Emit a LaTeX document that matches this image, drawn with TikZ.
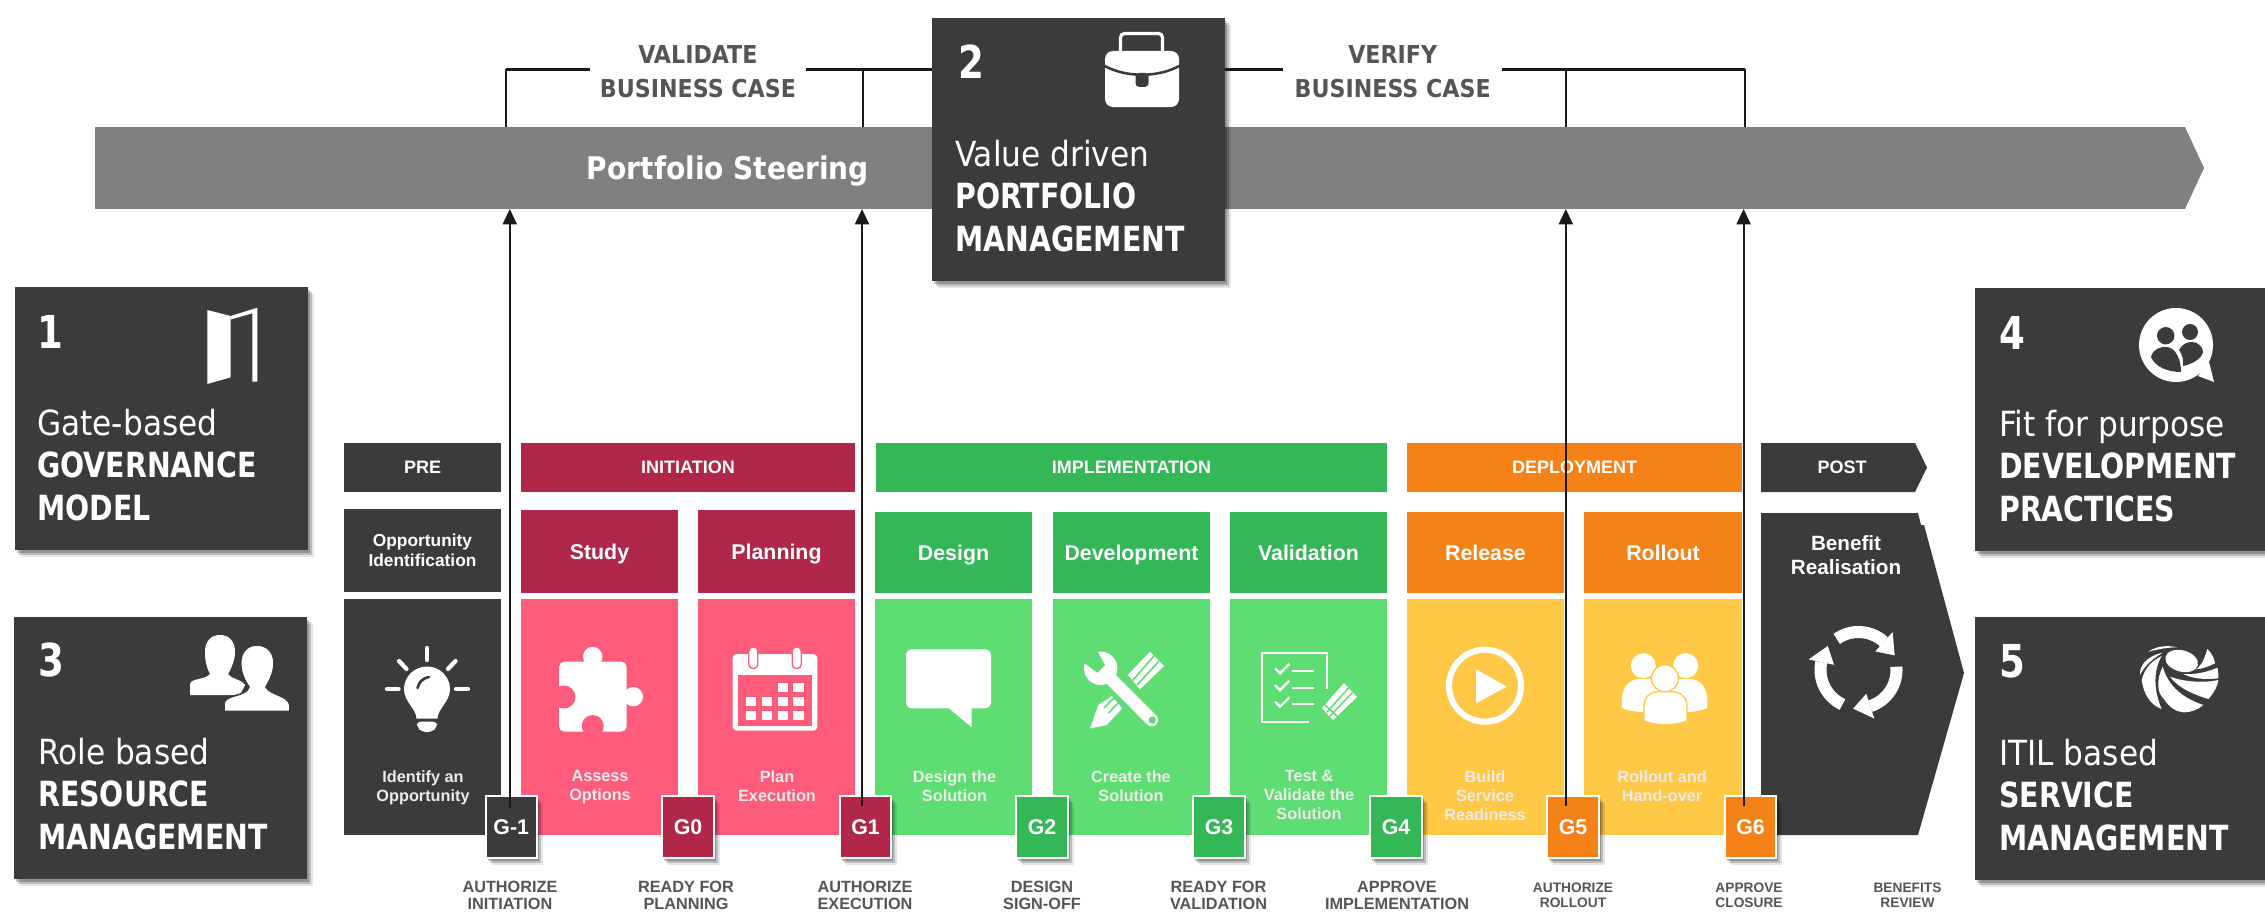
\documentclass[tikz,border=0pt]{standalone}
\usepackage{fontspec}
\setmainfont{DejaVu Sans Condensed}
\newfontfamily\arialf{Liberation Sans}
\newfontfamily\bigbold[FakeStretch=0.91]{DejaVu Sans Condensed Bold}
\usetikzlibrary{shadows,arrows.meta}
\definecolor{dk}{HTML}{3B3B3B}
\definecolor{barc}{HTML}{808080}
\definecolor{crim}{HTML}{B1274A}
\definecolor{pnk}{HTML}{FF5C7C}
\definecolor{dgrn}{HTML}{34B757}
\definecolor{lgrn}{HTML}{5EDD72}
\definecolor{orng}{HTML}{F58216}
\definecolor{yell}{HTML}{FFC845}
\definecolor{lbl}{HTML}{555555}
\definecolor{lin}{HTML}{1A1A1A}
\newcommand\bb[1]{{\bigbold\fontsize{26}{31.7}\selectfont #1}}
\tikzset{
  softshadow/.style={
    general shadow={fill=black,opacity=.10,shadow xshift=4.5pt,shadow yshift=-5pt},
    general shadow={fill=black,opacity=.18,shadow xshift=3pt,shadow yshift=-3.5pt},
    general shadow={fill=black,opacity=.22,shadow xshift=1.5pt,shadow yshift=-2pt}},
  box/.style={inner sep=0pt,outer sep=0pt,text=white,align=center,font=\arialf\bfseries},
  bigbox/.style={box,fill=dk,softshadow},
  phase/.style={box,font=\arialf\bfseries\fontsize{13.5}{16}\selectfont},
  head/.style={box,text height=13.5pt,text depth=1.7pt,font=\arialf\bfseries\fontsize{16}{19}\selectfont},
  low/.style={box,font=\arialf\bfseries\fontsize{12.2}{14}\selectfont},
  gate/.style={box,draw=white,line width=1.5pt,softshadow,font=\arialf\bfseries\fontsize{16}{19}\selectfont},
  over/.style={inner sep=0pt,outer sep=0pt,text=white!92!black,align=center,font=\arialf\bfseries\fontsize{12.2}{14.2}\selectfont},
  gl/.style={inner sep=0pt,align=center,text=lbl,font=\arialf\bfseries\fontsize{12.2}{13.3}\selectfont},
  gs/.style={inner sep=0pt,align=center,text=lbl,font=\arialf\bfseries\fontsize{10.3}{11.5}\selectfont},
  numb/.style={inner sep=0pt,text=white,font=\bigbold\fontsize{34}{36}\selectfont},
  bt/.style={inner sep=0pt,anchor=west,align=left,text=white,font=\fontsize{26}{31.7}\selectfont},
  toplab/.style={inner sep=0pt,outer sep=0pt,align=center,text=lbl,font=\bfseries\fontsize{18.5}{25.5}\selectfont},
  arr/.style={draw=lin,line width=1.5pt,-{Triangle[length=11.5pt,width=10.5pt]}},
  vline/.style={draw=lin,line width=1.1pt},
  hline/.style={draw=lin,line width=1.8pt},
  ic/.style={fill=white,draw=none}
}
\newcommand\rb[7]{%
  \pgfmathsetmacro\rw{(#5-#3)*0.75}\pgfmathsetmacro\rh{(#6-#4)*0.75}%
  \node[#1,anchor=north west,minimum width=\rw pt,minimum height=\rh pt] (#2) at (#3,#4) {#7};}
\begin{document}
\begin{tikzpicture}[x=0.75pt,y=-0.75pt]
\useasboundingbox (0,0) rectangle (2265,917);
% portfolio bar
\rb{box,fill=barc}{bar}{95}{127}{2185}{209}{}
\fill[barc] (bar.north east) -- (2204,168) -- (bar.south east) -- cycle;
\node[inner sep=0pt,text=white,font=\bfseries\fontsize{23.4}{26}\selectfont] (steer) at (728,171) {Portfolio Steering};
% big boxes
\rb{bigbox}{b2}{932}{18}{1225}{281}{}
\rb{bigbox}{b1}{15}{287}{308}{550}{}
\rb{bigbox}{b3}{14}{617}{307}{879}{}
\rb{bigbox}{b4}{1975}{288}{2266}{551}{}
\rb{bigbox}{b5}{1975}{617}{2266}{880}{}
\node[numb] (n1) at (50,332) {1};
\node[numb] (n2) at (971,62) {2};
\node[numb] (n3) at (51,660) {3};
\node[numb] (n4) at (2012,333) {4};
\node[numb] (n5) at (2012,661) {5};
\node[bt] (t1) at (37,465) {Gate-based\\\bb{GOVERNANCE}\\\bb{MODEL}};
\node[bt] (t2) at (955,196) {Value driven\\\bb{PORTFOLIO}\\\bb{MANAGEMENT}};
\node[bt] (t3) at (38,794) {Role based\\\bb{RESOURCE}\\\bb{MANAGEMENT}};
\node[bt] (t4) at (1999,466) {Fit for purpose\\\bb{DEVELOPMENT}\\\bb{PRACTICES}};
\node[bt] (t5) at (1999,795) {ITIL based\\\bb{SERVICE}\\\bb{MANAGEMENT}};
% top labels and brackets
\node[toplab,minimum width=162pt] (val) at (698,72) {VALIDATE\\BUSINESS CASE};
\node[toplab,minimum width=164pt] (ver) at (1392.7,72) {VERIFY\\BUSINESS CASE};
\coordinate (hy) at (0,69.5);
\coordinate (c1) at (506,69.5);
\coordinate (c2) at (863,69.5);
\coordinate (c3) at (1566,69.5);
\coordinate (c4) at (1745,69.5);
\draw[hline] (b2.west |- hy) -- (val.east |- hy);
\draw[hline] (val.west |- hy) -- (c1);
\draw[hline] (b2.east |- hy) -- (ver.west |- hy);
\draw[hline] (ver.east |- hy) -- (c4);
\draw[vline] (c1) -- (c1 |- bar.north);
\draw[vline] (c2) -- (c2 |- bar.north);
\draw[vline] (c3) -- (c3 |- bar.north);
\draw[vline] (c4) -- (c4 |- bar.north);
% phases
\rb{phase,fill=dk}{pre}{344}{443}{501}{492}{PRE}
\rb{phase,fill=crim}{ini}{521}{443}{855}{492}{INITIATION}
\rb{phase,fill=dgrn}{imp}{876}{443}{1387}{492}{IMPLEMENTATION}
\rb{phase,fill=orng}{dep}{1407}{443}{1742}{492}{DEPLOYMENT}
\fill[dk] (1761,443) -- (1915,443) -- (1927,467.5) -- (1915,492) -- (1761,492) -- cycle;
\node[inner sep=0pt,text=white,font=\arialf\bfseries\fontsize{13.5}{16}\selectfont] (post) at (1842,467.5) {POST};
% sub heads
\rb{box,fill=dk,font=\arialf\bfseries\fontsize{13}{15}\selectfont}{h0}{344}{509}{501}{592}{Opportunity\\Identification}
\rb{head,fill=crim}{h1}{521}{510}{678}{593}{Study}
\rb{head,fill=crim}{h2}{698}{510}{855}{593}{Planning}
\rb{head,fill=dgrn}{h3}{875}{512}{1032}{593}{Design}
\rb{head,fill=dgrn}{h4}{1053}{512}{1210}{593}{Development}
\rb{head,fill=dgrn}{h5}{1230}{512}{1387}{593}{Validation}
\rb{head,fill=orng}{h6}{1407}{512}{1564}{593}{Release}
\rb{head,fill=orng}{h7}{1584}{512}{1742}{593}{Rollout}
% lower panels
\rb{box,fill=dk}{p0}{344}{599}{501}{835}{}
\rb{box,fill=pnk}{p1}{521}{599}{678}{835}{}
\rb{box,fill=pnk}{p2}{698}{599}{855}{835}{}
\rb{box,fill=lgrn}{p3}{875}{599}{1032}{835}{}
\rb{box,fill=lgrn}{p4}{1053}{599}{1210}{835}{}
\rb{box,fill=lgrn}{p5}{1230}{599}{1387}{835}{}
\rb{box,fill=yell}{p6}{1407}{599}{1564}{835}{}
\rb{box,fill=yell}{p7}{1584}{599}{1742}{835}{}
\fill[dk] (1761,513) -- (1918,513) -- (1921,525) -- (1924,525) -- (1964,673) -- (1918,835) -- (1761,835) -- cycle;
\node[inner sep=0pt,align=center,text=white,font=\arialf\bfseries\fontsize{15.5}{17.5}\selectfont] (h8) at (1846,555) {Benefit\\Realisation};
% panel captions
\node[over,anchor=north] (o0) at (423,770.5) {Identify an\\Opportunity};
\node[over,anchor=north] (o1) at (600,770.5) {Assess\\Options};
\node[over,anchor=north] (o2) at (777,770.5) {Plan\\Execution};
\node[over,anchor=north] (o3) at (954.5,770.5) {Design the\\Solution};
\node[over,anchor=north] (o4) at (1131,770.5) {Create the\\Solution};
\node[over,anchor=north] (o5) at (1309,770.5) {Test \&\\Validate the\\Solution};
\node[over,anchor=north] (o6) at (1485,770.5) {Build\\Service\\Readiness};
\node[over,anchor=north] (o7) at (1662,770.5) {Rollout and\\Hand-over};
% ICONS
% door
\fill[ic] (207.3,310) -- (230.7,316) -- (230.7,377.3) -- (207.3,384) -- cycle;
\fill[ic] (230.7,316) -- (257.3,307.7) -- (257.3,381.7) -- (252.3,381.7) -- (252.3,313.3) -- (230.7,319.5) -- cycle;
% briefcase
\draw[white,line width=2.4pt,rounded corners=3pt] (1120.5,53) -- (1120.5,33.5) -- (1162.5,33.5) -- (1162.5,53);
\fill[ic,rounded corners=6pt] (1105,51) rectangle (1179,107);
\draw[dk,line width=1.9pt] (1103,65) .. controls (1125,78) and (1159,78) .. (1181,65);
\fill[dk,rounded corners=2.8pt] (1135.5,73) rectangle (1148.5,87);
% bubble
\fill[ic] (2176,345) circle[radius=37];
\fill[ic] (2198,376) -- (2214,382) -- (2209,362) -- cycle;
\fill[dk] (2165.7,335.7) circle[radius=8.7];
\fill[dk] (2190,332) circle[radius=8];
\fill[dk] (2151,357) .. controls (2153,349) and (2160,346.5) .. (2167,347) .. controls (2176,348) and (2181,360) .. (2181,372) .. controls (2168,372) and (2155,367) .. (2151,357) -- cycle;
\fill[dk] (2179,350) .. controls (2182,344) and (2187,342) .. (2192,342) .. controls (2198,342) and (2203,347) .. (2203,352) .. controls (2202,358) and (2193,364) .. (2183,366) .. controls (2184,360) and (2182,354) .. (2179,350) -- cycle;
% two heads
\fill[ic] (190,695) -- (190,684) .. controls (191,678) and (205,680) .. (210,674) .. controls (205,665) and (205,655) .. (205,652) .. controls (205,640) and (212,635) .. (220,635) .. controls (228,635) and (235,640) .. (235,652) .. controls (235,660) and (232,667) .. (228,674) .. controls (232,680) and (240,678) .. (245,685) -- (240,695) -- cycle;
\fill[ic,draw=dk,line width=1.2pt] (224,711.5) -- (224,703) .. controls (226,694) and (246,697) .. (249,687) .. controls (244,680) and (240.7,672) .. (240.7,663) .. controls (240.7,651) and (248,645) .. (257,645) .. controls (266,645) and (274,651) .. (274,663) .. controls (274,672) and (270,680) .. (266,687) .. controls (270,695) and (288,695) .. (290,705) -- (290,711.5) -- cycle;
% bulb
\begin{scope}[line cap=round,line width=3.2pt,draw=white]
\draw[white] (427,648) -- (427,660);
\draw[white] (399,661) -- (406.5,669);
\draw[white] (455.5,661) -- (448,669);
\draw[white] (387,689) -- (398.5,689);
\draw[white] (456,689) -- (468,689);
\end{scope}
\fill[ic] (427,666.5) .. controls (440,666.5) and (450,677) .. (450,689) .. controls (450,702) and (438,708) .. (437.5,718.5) -- (416.5,718.5) .. controls (416,708) and (404,702) .. (404,689) .. controls (404,677) and (414,666.5) .. (427,666.5) -- cycle;
\fill[ic,rounded corners=3pt] (417,721.5) -- (437,721.5) -- (437,727) -- (432,732) -- (422,732) -- (417,727) -- cycle;
\draw[dk,line width=2pt,line cap=round] (417.5,688) .. controls (419,682) and (423,678) .. (429,677);
% puzzle
\fill[ic,rounded corners=4pt] (559,661.7) rectangle (626.7,731.7);
\fill[ic] (592.7,656.5) circle[radius=9.7];
\fill[ic] (633.3,696.7) circle[radius=9.7];
\fill[pnk] (564,697) circle[radius=11.5];
\fill[pnk] (592.7,726) circle[radius=11];
\fill[pnk] (581.7,731.9) rectangle (603.7,736);
% calendar
\fill[ic,rounded corners=3pt] (732.7,654) rectangle (817.3,730.7);
\fill[pnk] (738.3,675) rectangle (812.3,726);
\foreach \xx in {753.3,796.7}{\draw[pnk,fill=white,line width=1pt,rounded corners=3pt] (\xx-4.5,647) rectangle (\xx+4.5,668.5);}
\foreach \xx/\yy in {777.7/682.7,793.3/682.7,745.7/696.7,761.7/696.7,777.7/696.7,793.3/696.7,745.7/710.7,761.7/710.7,777.7/710.7,793.3/710.7}{\fill[ic] (\xx,\yy) rectangle (\xx+10.7,\yy+9.5);}
% speech
\fill[ic,rounded corners=4.5pt] (906,649.3) rectangle (991,708.3);
\fill[ic] (947.3,707) -- (971.7,727.3) -- (971.7,707) -- cycle;
% wrench and pencil
\fill[ic] (1150,651.7) -- (1164,666) -- (1140,689.3) -- (1127.7,675) -- cycle;
\draw[lgrn,line width=1.2pt] (1154,656) -- (1132.5,680.5);
\draw[lgrn,line width=1.2pt] (1159,661) -- (1137,685);
\fill[ic] (1090,728.5) -- (1098.3,705) -- (1111.7,696) -- (1122.3,708.3) -- (1106.7,725) -- cycle;
\draw[lgrn,line width=1.2pt] (1104,708) -- (1116,696);
\draw[lgrn,line width=1.2pt] (1108.5,713) -- (1120,701);
\draw[lgrn,line width=4pt] (1101,671) -- (1157,727);
\fill[ic] (1100.7,668.3) circle[radius=16.7];
\draw[white,line width=9.6pt,line cap=round] (1103,671) -- (1151.7,720);
\fill[lgrn] (1076,656) -- (1084,662.7) -- (1097.3,672.7) -- (1105,665) -- (1096.7,650) -- (1090,642) -- cycle;
\fill[lgrn] (1152.3,720) circle[radius=3.6];
% checklist
\draw[white,line width=1.5pt] (1309.3,722.3) -- (1261.7,722.3) -- (1261.7,652.7) -- (1326.7,652.7) -- (1326.7,689.3);
\foreach \dy in {0,16.8,33.4}{
  \begin{scope}[yshift={-0.75pt*\dy}]
  \draw[white,line width=1.8pt] (1275,668.3) -- (1280,673.3) -- (1289.3,664);
  \draw[white,line width=1.5pt] (1291.7,670.7) -- (1314.3,670.7);
  \end{scope}}
\fill[ic] (1344,683) -- (1357,697) -- (1333,720) -- (1322,708) -- cycle;
\draw[lgrn,line width=1.1pt] (1348.5,688) -- (1327,712);
\draw[lgrn,line width=1.1pt] (1352.5,692.5) -- (1330,716);
\draw[lgrn,line width=1.2pt] (1324,704) -- (1337,716);
% play
\draw[white,line width=4.6pt] (1485,685.7) circle[radius=36];
\fill[ic] (1476,669.3) -- (1506.7,686.7) -- (1476,703.3) -- cycle;
% people
\fill[ic] (1643.3,665.7) circle[radius=12.5];
\fill[ic] (1685.7,665.7) circle[radius=12.5];
\fill[ic] (1622,708) .. controls (1620,690) and (1627,679) .. (1640,679) -- (1690,679) .. controls (1702,679) and (1709,690) .. (1707,708) .. controls (1700,711) and (1695,711.5) .. (1688,712) -- (1642,712) .. controls (1635,711.5) and (1628,711) .. (1622,708) -- cycle;
\fill[ic,draw=yell,line width=1pt] (1665,678.3) circle[radius=13.5];
\fill[ic,draw=yell,line width=1pt] (1644,721) -- (1644,706) .. controls (1644,697) and (1650,691.7) .. (1658,691.7) -- (1672,691.7) .. controls (1680,691.7) and (1687,697) .. (1687,706) -- (1687,721) .. controls (1675,726) and (1655,726) .. (1644,721) -- cycle;
% cycle
\foreach \k in {0,120,240}{
  \begin{scope}[shift={(1858.5,670)},x=0.75pt,y=0.75pt,rotate=\k]
  \draw[white,line width=9pt] (125:38) arc[start angle=125,end angle=48,radius=38];
  \fill[ic] (48:25) -- (48:51) -- (22:39) -- cycle;
  \end{scope}}
% swirl
\begin{scope}[shift={(2120,630)},x=0.25pt,y=-0.25pt]
\fill[ic] (85,65) .. controls (110,48) and (140,45) .. (172,52) .. controls (140,52) and (115,58) .. (85,65) -- cycle;
\fill[ic] (60,135) .. controls (58,110) and (75,80) .. (128,68) .. controls (100,85) and (75,105) .. (60,135) -- cycle;
\fill[ic] (65,150) .. controls (75,110) and (100,90) .. (125,78) .. controls (100,120) and (100,180) .. (125,237) .. controls (90,225) and (70,190) .. (65,150) -- cycle;
\fill[ic] (128,110) .. controls (108,150) and (112,190) .. (130,205) .. controls (150,235) and (170,245) .. (190,247) .. controls (215,247) and (235,238) .. (250,225) .. controls (190,205) and (145,170) .. (128,110) -- cycle;
\fill[ic] (150,140) .. controls (175,175) and (225,195) .. (265,207) .. controls (285,185) and (293,165) .. (295,150) .. controls (250,160) and (190,155) .. (150,140) -- cycle;
\fill[ic] (190,132) .. controls (225,135) and (265,125) .. (292,113) .. controls (295,125) and (295,135) .. (295,145) .. controls (250,150) and (215,145) .. (190,132) -- cycle;
\fill[ic] (228,118) .. controls (250,100) and (255,80) .. (262,57) .. controls (275,70) and (283,85) .. (285,100) .. controls (265,110) and (245,117) .. (228,118) -- cycle;
\fill[ic,rotate around={-15:(185,93)}] (185,93) ellipse[x radius=50,y radius=32];
\end{scope}
% gates
\rb{gate,fill=dk}{gm1}{485.5}{796}{537}{858}{G-1}
\rb{gate,fill=crim}{g0}{662}{796}{714}{858}{G0}
\rb{gate,fill=crim}{g1}{840}{796}{891}{858}{G1}
\rb{gate,fill=dgrn}{g2}{1016}{796}{1068}{858}{G2}
\rb{gate,fill=dgrn}{g3}{1193}{796}{1245}{858}{G3}
\rb{gate,fill=dgrn}{g4}{1370}{796}{1422}{858}{G4}
\rb{gate,fill=orng}{g5}{1547}{796}{1599}{858}{G5}
\rb{gate,fill=orng}{g6}{1725}{796}{1776}{858}{G6}
% arrows
\draw[arr] ([xshift=-1.1pt,yshift=-9pt]gm1.north) -- ([xshift=-1.1pt]gm1.north |- bar.south);
\draw[arr] ([xshift=-2.6pt,yshift=-7.5pt]g1.north) -- ([xshift=-2.6pt]g1.north |- bar.south);
\draw[arr] ([xshift=-5.4pt,yshift=-7.5pt]g5.north) -- ([xshift=-5.4pt]g5.north |- bar.south);
\draw[arr] ([xshift=-5.2pt,yshift=-7.5pt]g6.north) -- ([xshift=-5.2pt]g6.north |- bar.south);
% gate labels
\node[gl] (l0) at (510,895.5) {AUTHORIZE\\INITIATION};
\node[gl] (l1) at (686,895.5) {READY FOR\\PLANNING};
\node[gl] (l2) at (865,895.5) {AUTHORIZE\\EXECUTION};
\node[gl] (l3) at (1042,895.5) {DESIGN\\SIGN-OFF};
\node[gl] (l4) at (1218.5,895.5) {READY FOR\\VALIDATION};
\node[gl] (l5) at (1397,895.5) {APPROVE\\IMPLEMENTATION};
\node[gs] (l6) at (1573,895.5) {AUTHORIZE\\ROLLOUT};
\node[gs] (l7) at (1749,895.5) {APPROVE\\CLOSURE};
\node[gs] (l8) at (1907.5,895.5) {BENEFITS\\REVIEW};
\end{tikzpicture}
\end{document}
